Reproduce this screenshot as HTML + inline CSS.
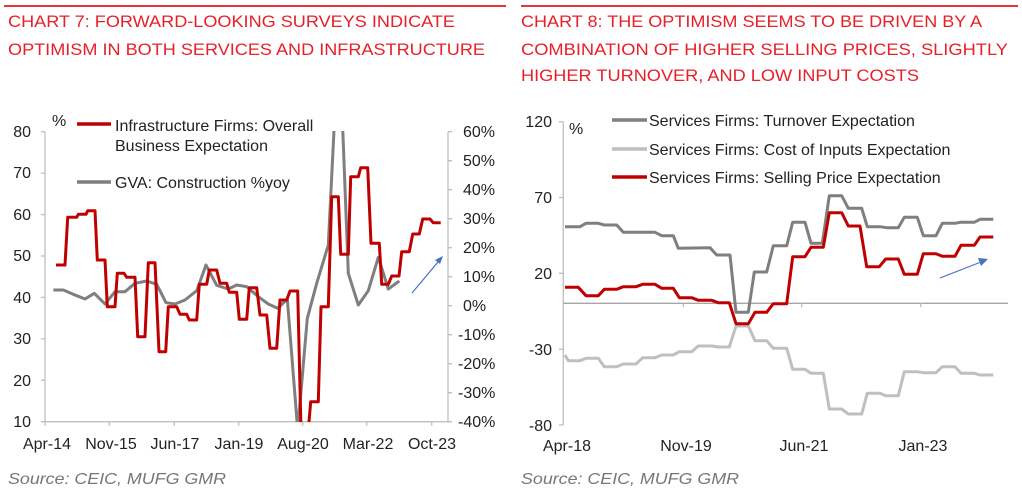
<!DOCTYPE html>
<html><head><meta charset="utf-8"><style>body{margin:0;background:#fff}svg{display:block}text{font-family:"Liberation Sans",sans-serif}</style></head><body>
<svg width="1022" height="496" viewBox="0 0 1022 496">
<defs>
<clipPath id="cl"><rect x="45" y="131" width="404" height="291"/></clipPath>
</defs>
<line x1="4" y1="6" x2="506" y2="6" stroke="#e8353a" stroke-width="2"/>
<line x1="521" y1="6" x2="1018" y2="6" stroke="#e8353a" stroke-width="2"/>
<g fill="#e8202a" font-size="17">
<text x="8" y="27" textLength="447" lengthAdjust="spacingAndGlyphs">CHART 7: FORWARD-LOOKING SURVEYS INDICATE</text>
<text x="8" y="55" textLength="477" lengthAdjust="spacingAndGlyphs">OPTIMISM IN BOTH SERVICES AND INFRASTRUCTURE</text>
<text x="521" y="27" textLength="461" lengthAdjust="spacingAndGlyphs">CHART 8: THE OPTIMISM SEEMS TO BE DRIVEN BY A</text>
<text x="521" y="55" textLength="487" lengthAdjust="spacingAndGlyphs">COMBINATION OF HIGHER SELLING PRICES, SLIGHTLY</text>
<text x="521" y="81" textLength="398" lengthAdjust="spacingAndGlyphs">HIGHER TURNOVER, AND LOW INPUT COSTS</text>
</g>
<g fill="#777" font-size="16" font-style="italic">
<text x="8" y="484" textLength="218" lengthAdjust="spacingAndGlyphs">Source: CEIC, MUFG GMR</text>
<text x="521" y="484" textLength="218" lengthAdjust="spacingAndGlyphs">Source: CEIC, MUFG GMR</text>
</g>

<!-- LEFT CHART -->
<g stroke="#bfbfbf" stroke-width="1.3" fill="none">
<line x1="45" y1="131.7" x2="45" y2="421.7"/>
<line x1="448" y1="131.7" x2="448" y2="421.7"/>
<line x1="45" y1="421.7" x2="450" y2="421.7"/>
<path d="M41 131.7h4M41 173.1h4M41 214.6h4M41 256h4M41 297.4h4M41 338.9h4M41 380.3h4M41 421.7h4"/>
<path d="M448 131.7h4M448 160.7h4M448 189.7h4M448 218.7h4M448 247.7h4M448 276.7h4M448 305.7h4M448 334.7h4M448 363.7h4M448 392.7h4M448 421.7h4"/>
<path d="M45 421.7v4M109.3 421.7v4M174.3 421.7v4M238.7 421.7v4M302.7 421.7v4M366.7 421.7v4M431.7 421.7v4"/>
</g>
<g font-size="16" fill="#222" text-anchor="end">
<text x="31" y="137">80</text><text x="31" y="178">70</text><text x="31" y="220">60</text><text x="31" y="261">50</text><text x="31" y="303">40</text><text x="31" y="344">30</text><text x="31" y="386">20</text><text x="31" y="427">10</text>
</g>
<g font-size="16" fill="#222">
<text x="463" y="137">60%</text><text x="463" y="166">50%</text><text x="463" y="195">40%</text><text x="463" y="224">30%</text><text x="463" y="253">20%</text><text x="463" y="282">10%</text><text x="463" y="311">0%</text><text x="458" y="340">-10%</text><text x="458" y="369">-20%</text><text x="458" y="398">-30%</text><text x="458" y="427">-40%</text>
</g>
<g font-size="16" fill="#222" text-anchor="middle">
<text x="47" y="449">Apr-14</text><text x="111" y="449">Nov-15</text><text x="175" y="449">Jun-17</text><text x="239" y="449">Jan-19</text><text x="303" y="449">Aug-20</text><text x="368" y="449">Mar-22</text><text x="432" y="449">Oct-23</text>
</g>
<text x="52" y="126" font-size="16" fill="#222">%</text>
<line x1="77" y1="124" x2="111" y2="124" stroke="#c00000" stroke-width="3.5"/>
<text x="115" y="131" font-size="16" fill="#222">Infrastructure Firms: Overall</text>
<text x="115" y="151" font-size="16" fill="#222">Business Expectation</text>
<line x1="77" y1="182" x2="111" y2="182" stroke="#7f7f7f" stroke-width="3.5"/>
<text x="115" y="188" font-size="16" fill="#222">GVA: Construction %yoy</text>
<g clip-path="url(#cl)" fill="none" stroke-width="3" stroke-linejoin="round">
<polyline stroke="#7f7f7f" points="53.3,290 63.3,290 73.3,294.3 85,299 94.3,293.3 105,304 115,291.7 125,291.7 135,283.3 146.7,281 156.7,284.3 166,302.7 175,304 185,300 196.7,290.7 206,265 216.7,285.3 228.3,289 236.7,285 246.7,286.7 258.3,296.7 268.3,304 277.7,308.3 287.3,299 297.7,430 307.3,318.3 316.7,283.3 328.3,245 335,110 342,110 348.3,273.3 358.3,305 368.3,290.7 378.3,257.3 388.3,289 399.3,281"/>
<polyline stroke="#c00000" points="56,265 65,265 67.7,217.3 76.7,217.3 78.3,214.3 86,214.3 87.7,210.7 95,210.7 97.3,260 105,260 107.3,306.7 115,306.7 117.3,273.3 124,273.3 126.7,277.3 135,277.3 137.7,336.7 145,336.7 148.3,262.7 155,262.7 159,351.7 165.7,351.7 168.3,306.7 176.7,306.7 180,314.3 186.7,314.3 189.3,320 196.7,320 199.3,284.3 206.7,284.3 209.3,270 216.7,270 220,283.3 226.7,283.3 229.3,292.3 236.7,292.3 239.3,319.3 246.7,319.3 249.3,287.7 256.7,287.7 260,315 266.7,315 270,348.3 276.7,348.3 280,300 286.7,300 290,291 297.7,291 301,430 308.3,430 310.7,401.7 318.3,401.7 321,306.7 328.3,306.7 331.7,196.7 338.3,196.7 340.7,254.3 348.3,254.3 350.7,176.7 358.3,176.7 360.7,167.7 367.7,167.7 371,243.3 379.3,243.3 381.7,284.3 388.3,284.3 391.7,276 399,276 401.7,251.7 409.3,251.7 412.7,234 419.3,234 422.7,219 430,219 433.3,222.7 440.7,222.7"/>
</g>
<line x1="412" y1="293" x2="438" y2="262" stroke="#4472c4" stroke-width="1.2"/>
<polygon points="443,256 435,260 440,264" fill="#4472c4"/>

<!-- RIGHT CHART -->
<g stroke="#bfbfbf" stroke-width="1.3" fill="none">
<line x1="563.3" y1="121.7" x2="563.3" y2="425"/>
<line x1="563.3" y1="303.3" x2="1008" y2="303.3" stroke="#a6a6a6"/>
<path d="M559 121.7h4M559 197.5h4M559 273.3h4M559 349.2h4M559 425h4"/>
<path d="M683.3 303.3v4M801.7 303.3v4M920.7 303.3v4"/>
</g>
<g font-size="16" fill="#222" text-anchor="end">
<text x="552" y="127">120</text><text x="552" y="203">70</text><text x="552" y="279">20</text><text x="552" y="355">-30</text><text x="552" y="431">-80</text>
</g>
<g font-size="16" fill="#222" text-anchor="middle">
<text x="567" y="451">Apr-18</text><text x="686" y="451">Nov-19</text><text x="804" y="451">Jun-21</text><text x="923" y="451">Jan-23</text>
</g>
<text x="569" y="134" font-size="16" fill="#222">%</text>
<g font-size="16" fill="#222">
<line x1="612" y1="120" x2="647" y2="120" stroke="#7f7f7f" stroke-width="3.5"/>
<text x="649" y="126">Services Firms: Turnover Expectation</text>
<line x1="612" y1="149" x2="647" y2="149" stroke="#bfbfbf" stroke-width="3.5"/>
<text x="649" y="155">Services Firms: Cost of Inputs Expectation</text>
<line x1="612" y1="177" x2="647" y2="177" stroke="#c00000" stroke-width="3.5"/>
<text x="649" y="183">Services Firms: Selling Price Expectation</text>
</g>
<g fill="none" stroke-width="3" stroke-linejoin="round">
<polyline stroke="#bfbfbf" points="565,355 568.3,360.7 580,360.7 586,358.3 598.3,358.3 604.3,366.7 616.7,366.7 623.3,364 636,364 642.7,357.7 655,357.7 661.7,355 673.3,355 679.3,351.7 691.7,351.7 698.3,346 711.7,346 718.3,347 729.3,347 736,326 748.3,326 755,340.7 766.7,340.7 773.3,348.3 786.7,348.3 792.7,369.3 805,369.3 811,373.3 823.3,373.3 829.3,409 841.7,409 848.3,414 861.7,414 867.3,393.3 880,393.3 885.7,395.7 898.3,395.7 904.3,371.7 917.3,371.7 923.3,372.7 936,372.7 942.3,366.7 955,366.7 961,373.3 974.3,373.3 980,375 993.3,375"/>
<polyline stroke="#7f7f7f" points="565,226.7 580,226.7 586,223.3 598.3,223.3 604.3,225 616.7,225 623.3,232.3 655,232.3 661.7,235.7 673.3,235.7 678.3,248.3 710,247.7 716.7,255 730,255 736,312.3 748.3,312.3 754.3,272 766.7,272 773.3,245.7 786.7,245.7 792.7,222.3 805,222.3 811,243.3 822.3,243.3 829.3,195.7 841.7,195.7 848.3,208.3 861.7,208.3 867.3,226.7 880,226.7 886.7,227.7 898.3,227.7 904.3,217.3 917.3,217.3 923.3,235.7 936,235.7 942.3,223.3 955,223.3 960,222.3 974.3,222.3 980,219.3 993.3,219.3"/>
<polyline stroke="#c00000" points="565,287.3 578.3,287.3 586,295.7 598.3,295.7 604.3,289.3 616.7,289.3 623.3,286.7 636,286.7 642.7,284.3 655,284.3 661.7,288.3 673.3,288.3 679.3,297.7 691.7,297.7 698.3,300.3 711.7,300.3 718.3,302.7 729.3,302.7 736,323.7 748.3,323.7 755,312.3 766.7,312.3 773.3,303.7 786.7,303.7 792.7,256.7 805,256.7 811,247.3 823.3,247.3 829.3,212.7 841.7,212.7 848.3,226 860,226 866.7,266.7 879.3,266.7 885.7,259 898.3,259 904.3,274.3 917.3,274.3 923.3,253.7 936,253.7 942.3,256.3 955,256.3 961,245.3 974.3,245.3 980,237 993.3,237"/>
</g>
<line x1="940" y1="278" x2="981" y2="262" stroke="#4472c4" stroke-width="1.2"/>
<polygon points="988,259 978,258 981,266" fill="#4472c4"/>
</svg>
</body></html>
